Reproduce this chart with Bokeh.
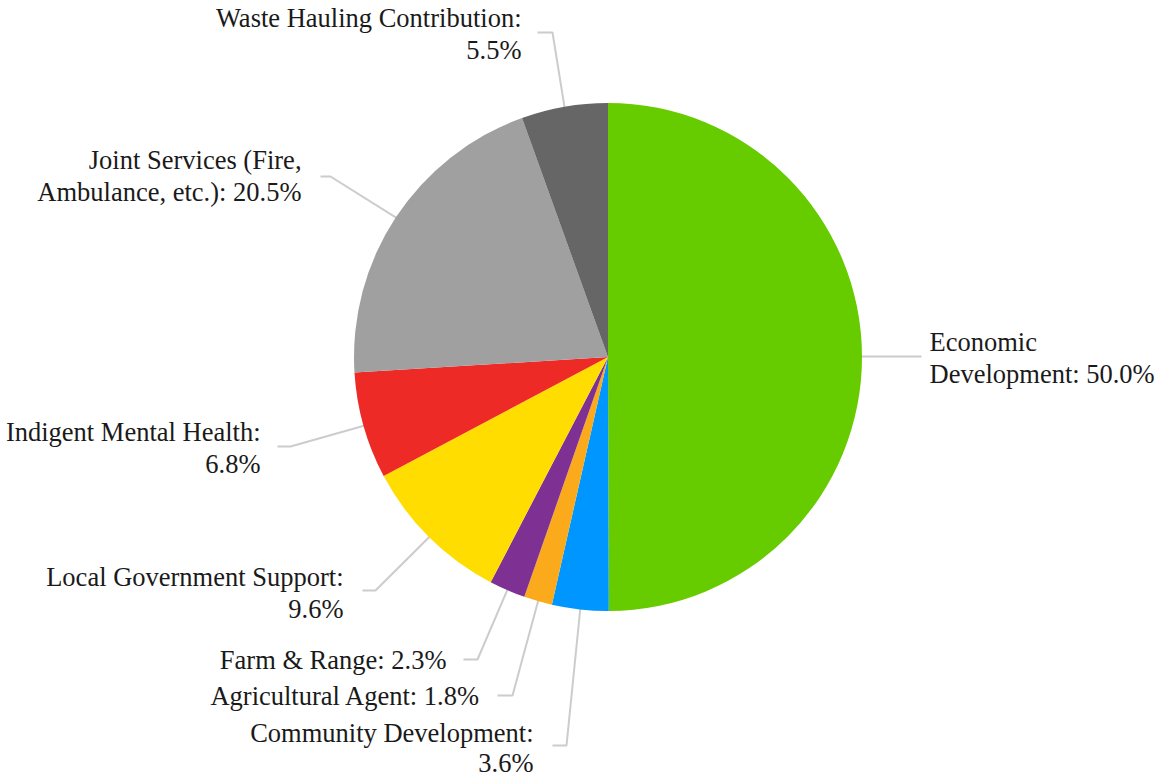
import math
from bokeh.plotting import figure
from bokeh.models import ColumnDataSource, Range1d
from bokeh.core.properties import value
from bokeh.embed import file_html
from bokeh.resources import INLINE

# ---- data ----
categories = ["Economic Development", "Community Development", "Agricultural Agent",
              "Farm & Range", "Local Government Support", "Indigent Mental Health",
              "Joint Services (Fire, Ambulance, etc.)", "Waste Hauling Contribution"]
shares = [50.0, 3.6, 1.8, 2.3, 9.6, 6.8, 20.5, 5.5]
colors = ["#66cc00", "#0096ff", "#fbaa1c", "#7f3193", "#ffdd00", "#ee2a27", "#a0a0a0", "#666666"]

# ---- layout (picture pixels, y downward) ----
W, H = 1155, 779
CX, CY, R = 607.5, 356.5, 254
# words on first label line
first_line_words = [1, 2, 4, 4, 3, 3, 3, 3]
# text anchor x, first baseline y, alignment
label_x = [929, 533, 480, 446, 343, 260, 301, 521]
label_y = [341, 732, 695, 659, 576, 431, 159, 17]
label_align = ["left", "right", "right", "right", "right", "right", "right", "right"]
line_sp = [32, 30, 32, 32, 32, 32, 32, 32]
# leader elbow and end points
elbow = [(905, 356), (566, 745), (512, 695), (477, 659), (375, 590), (290, 446), (330, 176), (552, 32)]
lead_end = [(921, 356), (552, 745), (497, 695), (463, 659), (362, 590), (277, 446), (320, 176), (537, 32)]

def Y(py):
    return H - py

p = figure(width=W, height=H, output_backend="svg", toolbar_location=None,
           x_range=Range1d(0, W), y_range=Range1d(0, H),
           min_border=0, outline_line_color=None, background_fill_color="white")
p.axis.visible = False
p.grid.visible = False

total = sum(shares)
starts, ends, mids = [], [], []
c = 0.0
for s in shares:
    a0 = math.pi / 2 - 2 * math.pi * c / total
    c += s
    a1 = math.pi / 2 - 2 * math.pi * c / total
    starts.append(a1)
    ends.append(a0)
    mids.append((a0 + a1) / 2)

# leader lines
xs, ys = [], []
for i, m in enumerate(mids):
    ex = CX + (R - 6) * math.cos(m)
    ey = Y(CY) + (R - 6) * math.sin(m)
    xs.append([ex, elbow[i][0], lead_end[i][0]])
    ys.append([ey, Y(elbow[i][1]), Y(lead_end[i][1])])
p.multi_line(xs, ys, line_color="#cccccc", line_width=2)

src = ColumnDataSource(dict(start=starts, end=ends, color=colors))
p.wedge(x=CX, y=Y(CY), radius=R, start_angle="start", end_angle="end",
        fill_color="color", line_color=None, source=src)

# labels
tx, ty, tt, ta = [], [], [], []
for i, (cat, s) in enumerate(zip(categories, shares)):
    words = f"{cat}: {s:.1f}%".split(" ")
    n = first_line_words[i]
    lines = [" ".join(words[:n])]
    if n < len(words):
        lines.append(" ".join(words[n:]))
    for j, ln in enumerate(lines):
        tx.append(label_x[i])
        ty.append(Y(label_y[i] + j * line_sp[i]))
        tt.append(ln)
        ta.append(label_align[i])
lsrc = ColumnDataSource(dict(x=tx, y=ty, text=tt, align=ta))
p.text(x="x", y="y", text="text", text_align="align", text_baseline="alphabetic",
       text_font=value("Liberation Serif"), text_font_size="26.5px",
       text_color="#1a1a1a", source=lsrc)

open("out.html", "w").write(file_html(p, INLINE))
